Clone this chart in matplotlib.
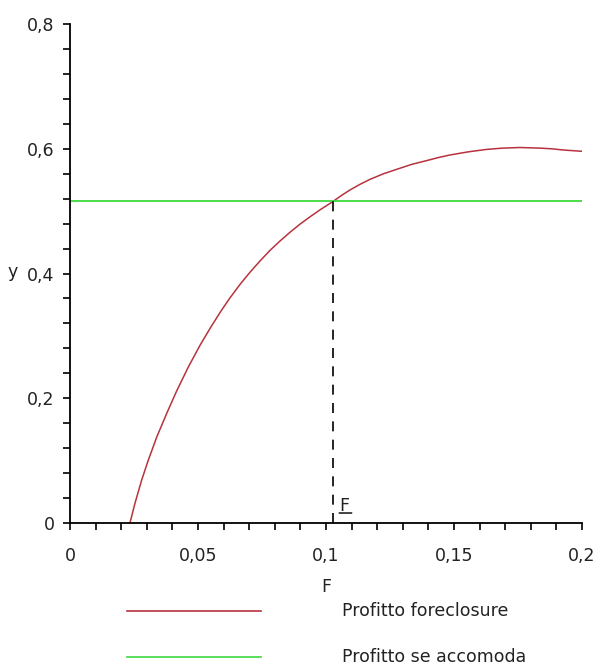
import numpy as np
import matplotlib.pyplot as plt
from matplotlib.lines import Line2D
from matplotlib.ticker import FixedLocator, MultipleLocator

plt.rcParams['font.family'] = ['DejaVu Sans']

# Curva del profitto con foreclosure
F_vals = [0.0234, 0.0254, 0.0280, 0.0306, 0.0339, 0.0378, 0.0417, 0.0462,
          0.0508, 0.0547, 0.0590, 0.0625, 0.0665, 0.0703, 0.0742, 0.0781,
          0.0820, 0.0859, 0.0898, 0.0938, 0.0980, 0.1022, 0.1029, 0.1060,
          0.1094, 0.1133, 0.1172, 0.1225, 0.1276, 0.1335, 0.1393, 0.1440,
          0.1484, 0.1555, 0.1628, 0.1690, 0.1758, 0.1836, 0.1880, 0.1927,
          0.1998]
profitto_fore = [0.000, 0.032, 0.069, 0.101, 0.138, 0.176, 0.212, 0.250,
                 0.285, 0.312, 0.340, 0.361, 0.383, 0.402, 0.420, 0.437,
                 0.452, 0.466, 0.479, 0.491, 0.503, 0.514, 0.516, 0.525,
                 0.534, 0.543, 0.551, 0.560, 0.567, 0.575, 0.581, 0.586,
                 0.590, 0.595, 0.599, 0.601, 0.602, 0.601, 0.600, 0.598,
                 0.596]

# Profitto se accomoda (costante)
profitto_acc = 0.516
F_soglia = 0.1029

x_ticks = [0, 0.05, 0.1, 0.15, 0.2]
x_labels = ['0', '0,05', '0,1', '0,15', '0,2']
y_ticks = [0, 0.2, 0.4, 0.6, 0.8]
y_labels = ['0', '0,2', '0,4', '0,6', '0,8']

rosso = '#b8323e'
verde = '#3ed83e'
testo = '#222222'
fs = 12.5

fig = plt.figure(figsize=(5.99, 6.67), dpi=100)
ax = fig.add_axes([0.1169, 0.2159, 0.8547, 0.7481])

ax.plot(F_vals, profitto_fore, color=rosso, lw=1.1)
ax.plot([0, 0.2], [profitto_acc, profitto_acc], color=verde, lw=1.3)
ax.plot([F_soglia, F_soglia], [0, profitto_acc], color='black', lw=1.2,
        linestyle=(0, (6, 5)))

ax.set_xlim(0, 0.2)
ax.set_ylim(0, 0.8)
for s in ['top', 'right']:
    ax.spines[s].set_visible(False)
for s in ['left', 'bottom']:
    ax.spines[s].set_linewidth(1.3)

ax.xaxis.set_major_locator(FixedLocator(x_ticks))
ax.set_xticklabels(x_labels)
ax.xaxis.set_minor_locator(MultipleLocator(0.01))
ax.yaxis.set_major_locator(FixedLocator(y_ticks))
ax.set_yticklabels(y_labels)
ax.yaxis.set_minor_locator(MultipleLocator(0.04))
ax.tick_params(which='both', direction='out', length=5, width=1.2, labelsize=fs,
               colors='black', labelcolor=testo)
ax.tick_params(axis='x', which='major', pad=12)
ax.tick_params(axis='y', which='major', pad=6)

# etichette degli assi
ax.set_xlabel('F', fontsize=fs, labelpad=10, color=testo)
fig.text(0.012, 1 - 272 / 667, 'y', fontsize=fs, va='center', color=testo)

# F sottolineato
ax.text(0.1052, 0.02, 'F', fontsize=fs, color=testo)
ax.annotate('', xy=(0.1052, 0.016), xytext=(0.1100, 0.016),
            arrowprops=dict(arrowstyle='-', color=testo, lw=1.2,
                            shrinkA=0, shrinkB=0))

# legenda sotto il grafico
y1 = 1 - 611 / 667
y2 = 1 - 657 / 667
fig.add_artist(Line2D([127 / 599, 261 / 599], [y1, y1], color=rosso, lw=1.2))
fig.add_artist(Line2D([127 / 599, 261 / 599], [y2, y2], color=verde, lw=1.2))
fig.text(342 / 599, y1, 'Profitto foreclosure', fontsize=fs, va='center', color=testo)
fig.text(342 / 599, y2, 'Profitto se accomoda', fontsize=fs, va='center', color=testo)

fig.savefig('out.png', dpi=100)
